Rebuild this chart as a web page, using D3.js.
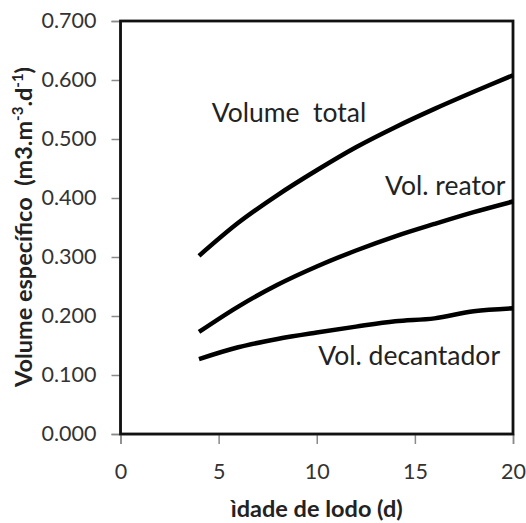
<!DOCTYPE html>
<html>
<head>
<meta charset="utf-8">
<script src="https://cdn.jsdelivr.net/npm/d3@7"></script>
<style>
  html, body { margin: 0; padding: 0; background: #fff; }
  svg { display: block; }
</style>
</head>
<body>
<svg id="chart" width="526" height="523"></svg>
<script>
// Sludge age (days) and specific volumes (m3 per m3 per day)
const sludgeAge = [4, 6, 8, 10, 12, 14, 16, 18, 20];
const volTotal = [0.302, 0.358, 0.405, 0.447, 0.486, 0.520, 0.551, 0.580, 0.608];
const volReator = [0.173, 0.216, 0.253, 0.284, 0.311, 0.335, 0.356, 0.376, 0.394];
const volDecantador = [0.127, 0.147, 0.161, 0.172, 0.182, 0.191, 0.196, 0.208, 0.213];

const xTicks = [0, 5, 10, 15, 20];
const yTicks = [0, 0.1, 0.2, 0.3, 0.4, 0.5, 0.6, 0.7];

const seriesNames = ["Volume  total", "Vol. reator", "Vol. decantador"];

const FONT = "Lato, 'Open Sans', sans-serif";

const svg = d3.select("#chart");

const x = d3.scaleLinear().domain([0, 20]).range([120.5, 513]);
const y = d3.scaleLinear().domain([0, 0.7]).range([434, 21]);

// y axis (gray line with outward ticks)
const yAxis = svg.append("g")
  .attr("transform", `translate(${x(0)},0)`)
  .call(d3.axisLeft(y).tickValues(yTicks).tickSize(9).tickPadding(15)
    .tickFormat(d3.format(".3f")));
yAxis.select(".domain").attr("stroke", "#8a8a8a").attr("stroke-width", 1.5);
yAxis.selectAll(".tick line").attr("stroke", "#8a8a8a").attr("stroke-width", 1.5);
yAxis.selectAll(".tick text")
  .attr("fill", "#333").style("font-family", FONT).style("font-size", "21.5px");

// x axis
const xAxis = svg.append("g")
  .attr("transform", `translate(0,${y(0)})`)
  .call(d3.axisBottom(x).tickValues(xTicks).tickSize(10).tickPadding(20)
    .tickFormat(d3.format("d")));
xAxis.select(".domain").attr("stroke", "#8a8a8a").attr("stroke-width", 1.5);
xAxis.selectAll(".tick line").attr("stroke", "#8a8a8a").attr("stroke-width", 1.5);
xAxis.selectAll(".tick text")
  .attr("fill", "#333").style("font-family", FONT).style("font-size", "21.5px");

// plot frame
svg.append("rect")
  .attr("x", x(0)).attr("y", y(0.7))
  .attr("width", x(20) - x(0)).attr("height", y(0) - y(0.7))
  .attr("fill", "none").attr("stroke", "#111").attr("stroke-width", 2.8);

// curves
const series = [volTotal, volReator, volDecantador];
const line = d3.line()
  .x(d => x(d[0]))
  .y(d => y(d[1]))
  .curve(d3.curveCatmullRom.alpha(0.5));

svg.append("g").selectAll("path")
  .data(series)
  .join("path")
  .attr("d", vals => line(sludgeAge.map((a, i) => [a, vals[i]])))
  .attr("fill", "none")
  .attr("stroke", "#000")
  .attr("stroke-width", 4.5)
  .attr("stroke-linecap", "butt")
  .attr("stroke-linejoin", "round");

// series labels, placed in data coordinates
const labelPos = [
  { name: seriesNames[0], ax: 4.65, ay: 0.529 },
  { name: seriesNames[1], ax: 13.48, ay: 0.405 },
  { name: seriesNames[2], ax: 10.08, ay: 0.117 }
];
svg.append("g").selectAll("text")
  .data(labelPos)
  .join("text")
  .attr("x", d => x(d.ax))
  .attr("y", d => y(d.ay))
  .style("white-space", "pre")
  .style("font-family", FONT)
  .style("font-size", "26.5px")
  .attr("fill", "#222")
  .text(d => d.name);

// axis titles
svg.append("text")
  .attr("x", (x(0) + x(20)) / 2)
  .attr("y", 517)
  .attr("text-anchor", "middle")
  .style("font-family", FONT)
  .style("font-size", "23.5px")
  .style("font-weight", "bold")
  .attr("fill", "#222")
  .text("ìdade de lodo (d)");

const yTitle = svg.append("text")
  .attr("transform", "translate(32,227) rotate(-90)")
  .attr("text-anchor", "middle")
  .style("font-family", FONT)
  .style("font-size", "23.5px")
  .style("font-weight", "bold")
  .style("white-space", "pre")
  .attr("fill", "#222");
yTitle.append("tspan").text("Volume específico  (m3.m");
yTitle.append("tspan").attr("dy", -9).style("font-size", "15px").text("-3");
yTitle.append("tspan").attr("dy", 9).text(".d");
yTitle.append("tspan").attr("dy", -9).style("font-size", "15px").text("-1");
yTitle.append("tspan").attr("dy", 9).text(")");
</script>
</body>
</html>
